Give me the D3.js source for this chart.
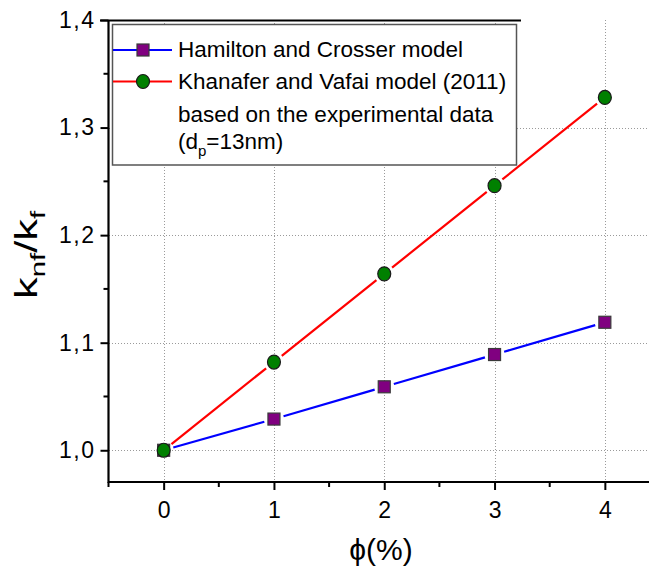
<!DOCTYPE html>
<html>
<head>
<meta charset="utf-8">
<script src="https://cdn.jsdelivr.net/npm/d3@7"></script>
<style>
  html, body { margin: 0; padding: 0; background: #fff; }
  svg { display: block; font-family: "Liberation Sans", Arial, sans-serif; }
</style>
</head>
<body>
<svg id="chart" width="649" height="568"></svg>
<script>
// Volume fraction (%) and relative thermal conductivity for the two models
const phi = [0, 1, 2, 3, 4];
const hamiltonCrosser = [1.0, 1.029, 1.059, 1.089, 1.119];
const khanaferVafai = [1.0, 1.082, 1.164, 1.246, 1.328];
const xTicks = [0, 1, 2, 3, 4];
const yTicks = [1.0, 1.1, 1.2, 1.3, 1.4];
const gridY = [1.0, 1.1, 1.2, 1.3];
const legendLines = [
  "Hamilton and Crosser model",
  "Khanafer and Vafai model (2011)",
  "based on the experimental data"
];

const svg = d3.select("#chart");

const x = d3.scaleLinear().domain([-0.5, 4.5]).range([108.5, 660]);
const y = d3.scaleLinear().domain([0.9705, 1.4]).range([482, 20]);

const fmt = d => d3.format(".1f")(d).replace(".", ",");

// dotted grid
const grid = svg.append("g").attr("stroke", "#9a9a9a").attr("stroke-width", 1)
  .attr("stroke-dasharray", "1,2");
grid.selectAll("line.h").data(gridY).join("line")
  .attr("x1", 109).attr("x2", 649)
  .attr("y1", d => Math.round(y(d)) + 0.5).attr("y2", d => Math.round(y(d)) + 0.5);
grid.selectAll("line.v").data(xTicks).join("line")
  .attr("y1", 20).attr("y2", 482)
  .attr("x1", d => Math.round(x(d)) + 0.5).attr("x2", d => Math.round(x(d)) + 0.5);

// connecting lines with small gaps around the markers
function gappedSegments(xs, ys, gap) {
  const segs = [];
  for (let i = 0; i < xs.length - 1; i++) {
    const x0 = x(xs[i]), y0 = y(ys[i]), x1 = x(xs[i + 1]), y1 = y(ys[i + 1]);
    const len = Math.hypot(x1 - x0, y1 - y0);
    const ux = (x1 - x0) / len, uy = (y1 - y0) / len;
    segs.push([x0 + ux * gap, y0 + uy * gap, x1 - ux * gap, y1 - uy * gap]);
  }
  return segs;
}

function drawSeries(values, color) {
  svg.append("g").selectAll("line").data(gappedSegments(phi, values, 10)).join("line")
    .attr("x1", d => d[0]).attr("y1", d => d[1])
    .attr("x2", d => d[2]).attr("y2", d => d[3])
    .attr("stroke", color).attr("stroke-width", 2.2);
}
drawSeries(khanaferVafai, "#ff0000");
drawSeries(hamiltonCrosser, "#0000ff");

// markers
function square(g, cx, cy) {
  g.append("rect").attr("x", cx - 6).attr("y", cy - 6).attr("width", 12).attr("height", 12)
    .attr("fill", "#800080").attr("stroke", "#3a3a3a").attr("stroke-width", 1.2);
}
function circle(g, cx, cy) {
  g.append("ellipse").attr("cx", cx).attr("cy", cy).attr("rx", 6.5).attr("ry", 7)
    .attr("fill", "#008000").attr("stroke", "#1a1a1a").attr("stroke-width", 1.2);
}
const mk = svg.append("g");
phi.forEach((p, i) => square(mk, x(p), y(hamiltonCrosser[i])));
phi.forEach((p, i) => circle(mk, x(p), y(khanaferVafai[i])));

// axes
const xAxis = svg.append("g").attr("transform", "translate(0,482)")
  .call(d3.axisBottom(x).tickValues(xTicks).tickFormat(d3.format("d")).tickSizeOuter(0).tickSize(8).tickPadding(12));
xAxis.append("g").selectAll("line").data([-0.5, 0.5, 1.5, 2.5, 3.5, 4.5]).join("line")
  .attr("x1", d => x(d)).attr("x2", d => x(d)).attr("y1", 0).attr("y2", 5).attr("stroke", "#000").attr("stroke-width", 2);
const yAxis = svg.append("g").attr("transform", "translate(108.5,0)")
  .call(d3.axisLeft(y).tickValues(yTicks).tickFormat(fmt).tickSizeOuter(0).tickSize(8).tickPadding(5));
yAxis.append("g").selectAll("line").data([1.05, 1.15, 1.25, 1.35]).join("line")
  .attr("x1", 0).attr("x2", -5).attr("y1", d => y(d)).attr("y2", d => y(d)).attr("stroke", "#000").attr("stroke-width", 2);
[xAxis, yAxis].forEach(a => {
  a.attr("font-size", 23).attr("font-family", "'Liberation Sans', Arial, sans-serif");
  a.select(".domain").attr("stroke", "#000").attr("stroke-width", 2.2);
  a.selectAll(".tick line").attr("stroke", "#000").attr("stroke-width", 2);
  a.selectAll(".tick text").attr("fill", "#000").style("font-size", "23px");
});
yAxis.selectAll(".tick text").style("letter-spacing", "1.5px");
xAxis.select(".domain").attr("d", "M108,0H649");
yAxis.select(".domain").attr("d", "M0,20V483");

// axis titles
svg.append("text").attr("x", 381).attr("y", 560).attr("text-anchor", "middle")
  .style("font-size", "30px").attr("fill", "#000").text("ϕ(%)");
const yt = svg.append("text").attr("transform", "translate(37,255) rotate(-90) scale(1.4,1)")
  .attr("text-anchor", "middle").style("font-size", "31px").attr("fill", "#000");
yt.append("tspan").text("k");
yt.append("tspan").style("font-size", "21px").attr("dy", 8).text("nf");
yt.append("tspan").attr("dy", -8).text("/k");
yt.append("tspan").style("font-size", "21px").attr("dy", 8).text("f");

// legend
const lg = svg.append("g");
lg.append("line").attr("x1", 100).attr("x2", 521).attr("y1", 20.5).attr("y2", 20.5)
  .attr("stroke", "#000").attr("stroke-width", 2);
lg.append("rect").attr("x", 112.5).attr("y", 24.5).attr("width", 404).attr("height", 140.5)
  .attr("fill", "#fff").attr("stroke", "#555").attr("stroke-width", 1.5);
lg.append("line").attr("x1", 113).attr("x2", 172).attr("y1", 50).attr("y2", 50)
  .attr("stroke", "#0000ff").attr("stroke-width", 2.2);
square(lg, 143, 50);
lg.append("line").attr("x1", 113).attr("x2", 172).attr("y1", 81.5).attr("y2", 81.5)
  .attr("stroke", "#ff0000").attr("stroke-width", 2.2);
circle(lg, 143, 81.5);
const baselines = [57, 88.5, 121.5];
lg.selectAll("text.l").data(legendLines).join("text")
  .attr("x", 178).attr("y", (d, i) => baselines[i])
  .style("font-size", "22.5px").attr("fill", "#000").text(d => d);
const last = lg.append("text").attr("x", 178).attr("y", 148.5).style("font-size", "22.5px").attr("fill", "#000");
last.append("tspan").text("(d");
last.append("tspan").style("font-size", "15px").attr("dy", 7).text("p");
last.append("tspan").attr("dy", -7).text("=13nm)");
</script>
</body>
</html>
